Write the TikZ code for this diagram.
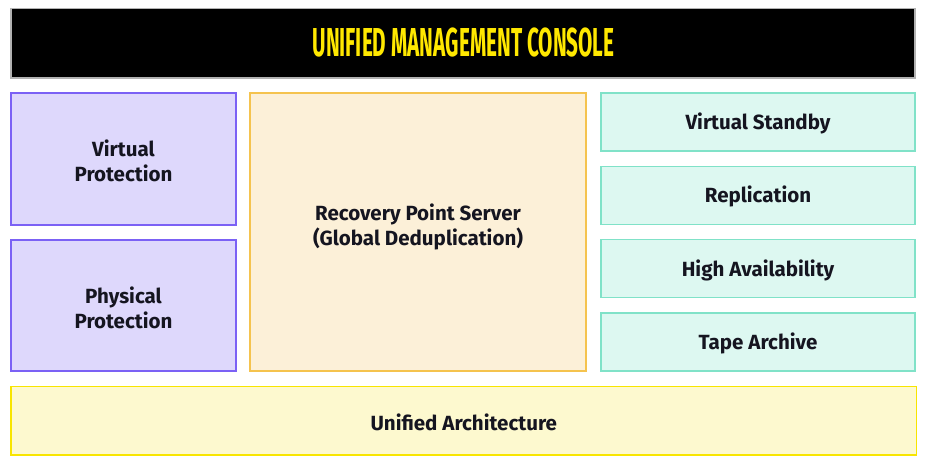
\documentclass[tikz,border=0pt]{standalone}
\usepackage{fontspec}
\setmainfont{Fira Sans}
\usetikzlibrary{fit}
\definecolor{purpfill}{HTML}{DED8FC}
\definecolor{purpline}{HTML}{7B61F5}
\definecolor{orfill}{HTML}{FCF0D8}
\definecolor{orline}{HTML}{F5C34E}
\definecolor{tealfill}{HTML}{DDF8F1}
\definecolor{tealline}{HTML}{80E2C8}
\definecolor{yelfill}{HTML}{FDF9CF}
\definecolor{yelline}{HTML}{F8E500}
\definecolor{hdrtext}{HTML}{FFE800}
\definecolor{txt}{HTML}{151520}
\begin{document}
\begin{tikzpicture}[x=0.75pt,y=-0.75pt,
  base/.style={inner sep=0pt, line width=1.1pt, align=center, text=txt,
    font=\bfseries\fontsize{15.4pt}{18.75pt}\selectfont},
  purpbox/.style={base, draw=purpline, fill=purpfill},
  orbox/.style={base, draw=orline, fill=orfill},
  tealbox/.style={base, draw=tealline, fill=tealfill},
  yelbox/.style={base, draw=yelline, fill=yelfill},
  hdrbox/.style={inner sep=0pt, draw=black!30, line width=0.9pt, fill=black}]
\useasboundingbox (0,0) rectangle (941,466);
\node[hdrbox, fit={(11,8.5) (915,78)}] (hdr) {};
\node[text=hdrtext, inner sep=0pt] (hdrt) at (463.5,42.5)
  {\resizebox{226.5pt}{21.5pt}{\bfseries UNIFIED MANAGEMENT CONSOLE}};
\node[purpbox, fit={(11,93) (236,225)}] (vp) {};
\node[base, draw=none, fill=none] at ([yshift=-1.5pt]vp.center) {Virtual\\Protection};
\node[purpbox, fit={(11,240) (236,371)}] (pp) {};
\node[base, draw=none, fill=none] at ([yshift=-1.5pt]pp.center) {Physical\\Protection};
\node[orbox, fit={(250,93) (586,371)}] (rps) {};
\node[base, draw=none, fill=none] at ([yshift=4pt]rps.center) {Recovery Point Server\\(Global Deduplication)};
\node[tealbox, fit={(601,93) (915,151)}] (vs) {};
\node[base, draw=none, fill=none] at ([yshift=-1pt]vs.center) {Virtual Standby};
\node[tealbox, fit={(601,166.7) (915,224.3)}] (rep) {};
\node[base, draw=none, fill=none] at ([yshift=-1pt]rep.center) {Replication};
\node[tealbox, fit={(601,239.7) (915,297.7)}] (ha) {};
\node[base, draw=none, fill=none] at ([yshift=-1pt]ha.center) {High Availability};
\node[tealbox, fit={(601,313) (915,371)}] (ta) {};
\node[base, draw=none, fill=none] at ([yshift=-1pt]ta.center) {Tape Archive};
\node[yelbox, fit={(11,386.5) (916.5,455)}] (ua) {};
\node[base, draw=none, fill=none] at ([yshift=-1pt]ua.center) {Unified Architecture};
\end{tikzpicture}
\end{document}
